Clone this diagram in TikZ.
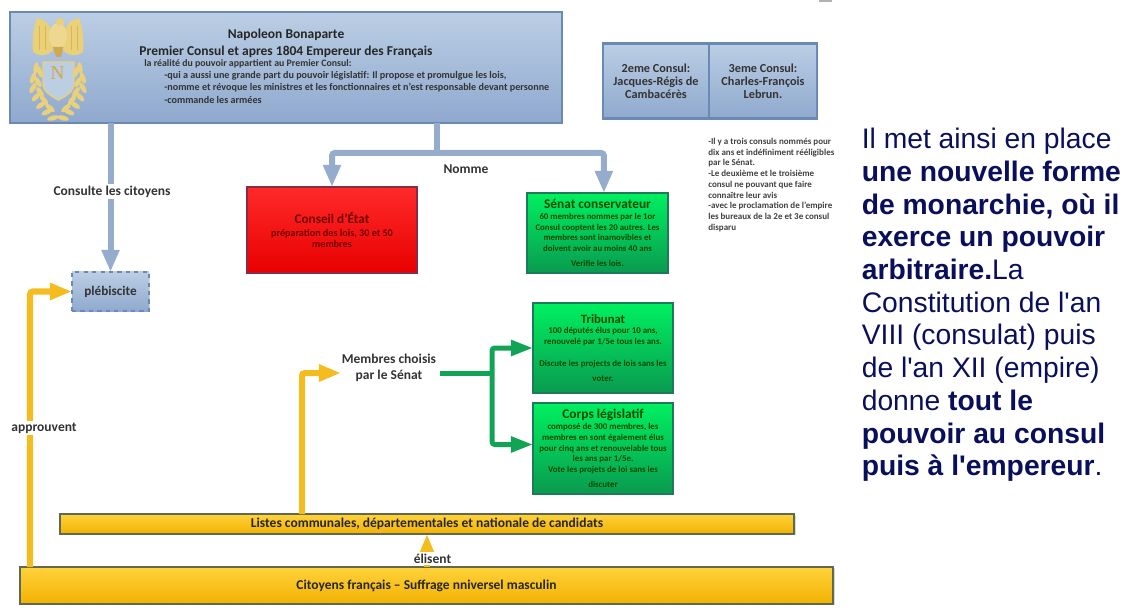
\documentclass[tikz,border=0pt]{standalone}
\usepackage{fontspec}
\setmainfont{Carlito}
\newfontfamily\sidefont{Liberation Sans}
\newfontfamily\letterfont{Liberation Serif}
\usetikzlibrary{arrows.meta,shadows}

\definecolor{linkblue}{HTML}{95ACCC}
\definecolor{linkyellow}{HTML}{F4BC1F}
\definecolor{linkgreen}{HTML}{12A455}
\definecolor{emblemgold}{HTML}{EBD07A}
\definecolor{emblemdark}{HTML}{CFA94A}
\definecolor{sidenavy}{HTML}{0A0F5C}
\definecolor{boxbluetop}{HTML}{BBCEE4}
\definecolor{boxbluebot}{HTML}{8FA9CE}
\definecolor{boxblueline}{HTML}{6A8AB5}
\definecolor{boxgreentop}{HTML}{00F060}
\definecolor{boxgreenbot}{HTML}{0A9A50}
\definecolor{boxgreenline}{HTML}{1F7A5A}
\definecolor{boxredtop}{HTML}{FF2A2A}
\definecolor{boxredbot}{HTML}{E80000}
\definecolor{boxredline}{HTML}{8A2A45}
\definecolor{boxyellowtop}{HTML}{FFD23C}
\definecolor{boxyellowbot}{HTML}{F2B200}
\definecolor{boxyellowline}{HTML}{5E6A50}

\tikzset{
	basebox/.style={inner sep=0pt, outer sep=0pt, align=center, line width=0.06cm, font=\bfseries,
		drop shadow={shadow xshift=1pt, shadow yshift=-1pt, opacity=.3, fill=gray}},
	bluebox/.style={basebox, draw=boxblueline, top color=boxbluetop, bottom color=boxbluebot, text=black!80},
	greenbox/.style={basebox, draw=boxgreenline, top color=boxgreentop, bottom color=boxgreenbot, text=green!30!black},
	redbox/.style={basebox, draw=boxredline, top color=boxredtop, bottom color=boxredbot, text=red!45!black},
	yellowbox/.style={basebox, line width=0.04cm, draw=boxyellowline, top color=boxyellowtop, bottom color=boxyellowbot, text=black!85},
	titletext/.style={font=\fontsize{9.6}{12.2}\selectfont\bfseries},
	labeltext/.style={font=\fontsize{9.6}{11.4}\selectfont\bfseries, fill=white, inner sep=1.5pt, text=black!80, align=center},
	bluelink/.style={draw=linkblue, line width=0.15cm, rounded corners=2pt, -{Triangle[length=0.55cm,width=0.42cm]}},
	yellowlink/.style={draw=linkyellow, line width=0.15cm, rounded corners=2pt, -{Triangle[length=0.55cm,width=0.4cm]}},
	greenlink/.style={draw=linkgreen, line width=0.125cm, rounded corners=2pt, -{Triangle[length=0.55cm,width=0.38cm]}},
}

\begin{document}
\begin{tikzpicture}[x=0.025cm, y=-0.025cm]
	\useasboundingbox (0,0) rectangle (1130,616);

	\fill[black!30] (819,0) rectangle (832,2);

	\node[bluebox, minimum width=13.8cm, minimum height=2.775cm] (napoleon) at (286,67.5) {};
	\node[bluebox, minimum width=2.65cm, minimum height=1.875cm, font=\fontsize{8.7}{9.4}\selectfont\bfseries] (consuldeux) at (656,81) {2eme Consul:\\Jacques-Régis de\\Cambacérès};
	\node[bluebox, minimum width=2.7cm, minimum height=1.875cm, font=\fontsize{8.7}{9.4}\selectfont\bfseries] (consultrois) at (763,81) {3eme Consul:\\Charles-François\\Lebrun.};
	\node[redbox, minimum width=4.25cm, minimum height=2.15cm, font=\fontsize{7.2}{8}\selectfont\bfseries] (conseil) at (332,230) {{\fontsize{9.4}{11}\selectfont Conseil d'État}\\[1pt]préparation des lois, 30 et 50\\membres};
	\node[greenbox, minimum width=3.525cm, minimum height=2cm, font=\fontsize{6.25}{7.6}\selectfont\bfseries] (senat) at (597.5,233) {{\fontsize{9.5}{10}\selectfont Sénat conservateur}\\60 membres nommes par le 1or\\Consul cooptent les 20 autres. Les\\membres sont inamovibles et\\doivent avoir au moins 40 ans\\[3pt]Verifie les lois.};
	\node[greenbox, minimum width=3.5cm, minimum height=2.25cm, font=\fontsize{6.3}{7.6}\selectfont\bfseries] (tribunat) at (603,348) {{\fontsize{9}{10}\selectfont Tribunat}\\100 députés élus pour 10 ans,\\renouvelé par 1/5e tous les ans.\\[8pt]Discute les projects de lois sans les\\[3pt]voter.};
	\node[greenbox, minimum width=3.5cm, minimum height=2.275cm, font=\fontsize{6.3}{7.6}\selectfont\bfseries] (corps) at (603,448.5) {{\fontsize{9.5}{10}\selectfont Corps législatif}\\composé de 300 membres, les\\membres en sont également élus\\pour cinq ans et renouvelable tous\\les ans par 1/5e.\\Vote les projets de loi sans les\\[3pt]discuter};
	\node[bluebox, dashed, line width=0.035cm, minimum width=1.925cm, minimum height=0.975cm, font=\fontsize{9.4}{10}\selectfont\bfseries] (plebiscite) at (110.5,291.5) {plébiscite};
	\node[yellowbox, minimum width=18.35cm, minimum height=0.5cm, font=\fontsize{9.6}{10}\selectfont\bfseries] (listes) at (427,524) {Listes communales, départementales et nationale de candidats};
	\node[yellowbox, minimum width=20.325cm, minimum height=0.925cm, font=\fontsize{9.6}{10}\selectfont\bfseries] (citoyens) at (426.5,585.5) {Citoyens français -- Suffrage nniversel masculin};

	% texte du premier consul
	\node[titletext, align=center, text=black!85] (napoleontitre) at (286,43) {Napoleon Bonaparte\\Premier Consul et apres 1804 Empereur des Français};
	\node[anchor=west, inner sep=0pt, font=\fontsize{7}{7}\selectfont\bfseries, text=black!80] (napoleonrealite) at (144,64) {la réalité du pouvoir appartient au Premier Consul:};
	\node[anchor=north west, inner sep=0pt, align=left, font=\fontsize{7.2}{8.9}\selectfont\bfseries, text=black!80] (napoleonliste) at (164,71) {-qui a aussi une grande part du pouvoir législatif: Il propose et promulgue les lois,\\-nomme et révoque les ministres et les fonctionnaires et n'est responsable devant personne\\-commande les armées};

	% aigle et ecusson
	\fill[emblemgold] (51,32) .. controls (50,22) and (42,19) .. (37,18) .. controls (33,28) and (32,42) .. (33,52) .. controls (40,57) and (48,56) .. (53,50) -- cycle;
	\fill[emblemgold] (65,32) .. controls (66,22) and (74,19) .. (79,18) .. controls (83,28) and (84,42) .. (83,52) .. controls (76,57) and (68,56) .. (63,50) -- cycle;
	\fill[emblemgold!85!white] (58,36) ellipse [x radius=9, y radius=13];
	\fill[emblemgold] (60,22) circle [radius=4];
	\fill[emblemdark] (53,47) -- (63,47) -- (61,57) -- (56,57) -- cycle;
	\foreach \x in {39, 45} {
		\draw[emblemdark!70!emblemgold, line width=0.4pt] (\x,26) -- (\x,50);
		\draw[emblemdark!70!emblemgold, line width=0.4pt] (116-\x,26) -- (116-\x,50);
	}
	\filldraw[draw=emblemgold, fill=boxbluetop, line width=1pt] (43,62) -- (74,62) -- (74,84) .. controls (74,92) and (64,97) .. (58.5,100) .. controls (53,97) and (43,92) .. (43,84) -- cycle;
	\node[font=\letterfont\fontsize{14}{14}\selectfont, text=emblemdark] (emblemletter) at (57.5,73) {N};
	\foreach \x/\y/\r in {36/68/80, 33/78/70, 33/88/60, 36/97/45, 41/105/35, 47/112/25, 53/118/15, 40/72/110, 38/82/120, 40/92/125, 44/100/130, 50/108/140} {
		\fill[emblemgold, rotate around={\r:(\x,\y)}] (\x,\y) ellipse [x radius=6, y radius=2.4];
		\fill[emblemgold, rotate around={-\r:(116-\x,\y)}] (116-\x,\y) ellipse [x radius=6, y radius=2.4];
	}

	% liaisons
	\coordinate (nommejoint) at (437,153);
	\coordinate (membresin) at (341,373);
	\coordinate (branch) at (492,373);
	\coordinate (approuventfoot) at (30,567);
	\coordinate (listesfoot) at (302,514);
	\coordinate (elisentfoot) at (427,567);

	\draw[bluelink] (napoleon.south -| plebiscite.north) -- (plebiscite.north);
	\draw[draw=linkblue, line width=0.15cm] (napoleon.south -| nommejoint) -- (nommejoint);
	\draw[bluelink] (nommejoint) -| (conseil.north);
	\draw[bluelink] (nommejoint) -| ([xshift=0.16cm]senat.north);
	\draw[yellowlink] (approuventfoot) |- (plebiscite.west);
	\draw[yellowlink] (listesfoot) |- (membresin);
	\draw[yellowlink] (elisentfoot) -- (listes.south -| elisentfoot);

	\node[labeltext] (consulte) at (112,191.5) {Consulte les citoyens};
	\node[labeltext] (nomme) at (466,169) {Nomme};
	\node[labeltext] (approuvent) at (44,428) {approuvent};
	\node[labeltext] (elisent) at (432.5,558.5) {élisent};
	\node[labeltext, fill=none, inner sep=0pt] (membres) at (389,368) {Membres choisis\\par le Sénat};

	\draw[draw=linkgreen, line width=0.125cm] ([xshift=0.1cm]membres.east |- branch) -- (branch);
	\draw[greenlink] (branch) |- (tribunat.west);
	\draw[greenlink] (branch) |- ([yshift=0.1cm]corps.west);

	% petit texte a droite
	\node[anchor=north west, inner sep=0pt, align=left, font=\fontsize{6.4}{7.6}\selectfont\bfseries, text=black!75] (consulnote) at (708,138) {-Il y a trois consuls nommés pour\\dix ans et indéfiniment rééligibles\\par le Sénat.\\-Le deuxième et le troisième\\consul ne pouvant que faire\\connaître leur avis\\-avec le proclamation de l'empire\\les bureaux de la 2e et 3e consul\\disparu};

	\node[anchor=north west, inner sep=0pt, align=left, text=sidenavy, font=\sidefont\fontsize{20.1}{23.25}\selectfont] (sidetext) at (861.5,128) {Il met ainsi en place\\\textbf{une nouvelle forme}\\\textbf{de monarchie, où il}\\\textbf{exerce un pouvoir}\\\textbf{arbitraire.}La\\Constitution de l'an\\VIII (consulat) puis\\de l'an XII (empire)\\donne \textbf{tout le}\\\textbf{pouvoir au consul}\\\textbf{puis à l'empereur}.};
\end{tikzpicture}
\end{document}
